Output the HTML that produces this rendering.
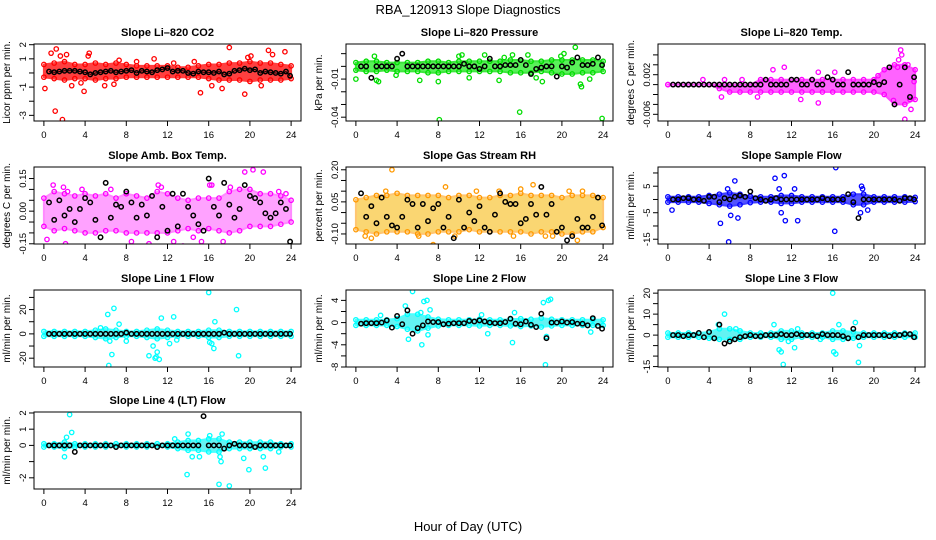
<!DOCTYPE html>
<html><head><meta charset="utf-8">
<style>
html,body{margin:0;padding:0;background:#fff;}
svg{display:block;font-family:"Liberation Sans",sans-serif;}
</style></head>
<body>
<svg id="chart" width="936" height="540" viewBox="0 0 936 540" xmlns="http://www.w3.org/2000/svg">
<text x="468" y="14" text-anchor="middle" font-size="13">RBA_120913  Slope Diagnostics</text>
<text x="468" y="531" text-anchor="middle" font-size="13">Hour of Day (UTC)</text>
</svg>
<script>
// ---- shared data ----
const xTicks = [0,4,8,12,16,20,24];
const bandHours = [0,1,2,3,4,5,6,7,8,9,10,11,12,13,14,15,16,17,18,19,20,21,22,23,24];
const blackHours = [0.5,1,1.5,2,2.5,3,3.5,4,4.5,5,5.5,6,6.5,7,7.5,8,8.5,9,9.5,10,10.5,11,11.5,12,12.5,13,13.5,14,14.5,15,15.5,16,16.5,17,17.5,18,18.5,19,19.5,20,20.5,21,21.5,22,22.5,23,23.5,23.9];

// ---- panel 1: CO2 ----
const co2Upper = [0.6,0.7,0.8,0.6,0.6,0.7,0.6,0.7,0.6,0.5,0.5,0.5,0.5,0.4,0.4,0.5,0.6,0.6,0.7,0.7,0.8,0.7,0.7,0.6,0.5];
const co2Lower = [-0.3,-0.4,-0.5,-0.4,-0.4,-0.5,-0.4,-0.4,-0.3,-0.3,-0.3,-0.3,-0.3,-0.3,-0.3,-0.3,-0.4,-0.5,-0.5,-0.5,-0.6,-0.5,-0.5,-0.5,-0.4];
const co2OutX = [0.1,1.1,1.8,1.2,0.7,1.6,2.2,3.9,4.4,2.7,3.6,5.9,10.7,15.2,18.0,17.3,19.5,21.8,22.2,23.4,20.1,7.3,9.0,4.3,6.8,12.6,14.6,16.3,19.8,21.1];
const co2OutY = [-1.1,-2.7,-3.3,1.7,1.4,1.2,1.3,-1.3,1.4,-0.9,-0.7,-0.9,1.0,-1.4,1.8,-1.1,-1.5,1.6,1.3,1.5,1.2,0.9,0.8,1.2,-0.8,0.7,0.8,-0.9,1.1,-0.9];
const co2Black = [0.1,0.05,0.1,0.15,0.15,0.15,0.1,0.05,-0.1,0.0,0.05,0.1,0.15,0.05,0.1,0.15,0.2,0.0,0.15,0.1,0.05,0.2,0.25,0.35,0.1,0.15,0.15,0.0,-0.05,0.1,0.05,0.05,0.0,0.1,-0.1,-0.05,0.15,0.2,0.3,0.2,0.25,0.0,0.1,0.05,0.0,-0.05,0.1,-0.2];

// ---- panel 2: pressure ----
const presUpper = [0.003,0.004,0.004,0.003,0.003,0.003,0.003,0.004,0.004,0.003,0.004,0.004,0.004,0.004,0.004,0.005,0.005,0.004,0.004,0.005,0.005,0.005,0.005,0.005,0.004];
const presLower = [-0.003,-0.004,-0.004,-0.003,-0.004,-0.004,-0.004,-0.005,-0.005,-0.004,-0.004,-0.004,-0.004,-0.004,-0.004,-0.005,-0.005,-0.005,-0.004,-0.005,-0.006,-0.006,-0.005,-0.005,-0.004];
const presOutX = [0.0,8.1,8.0,15.9,23.9,1.8,2.0,2.2,10.0,12.5,13.9,15.2,16.7,18.1,20.2,21.3,21.8,21.9,22.7,6.2,10.3,11.0,14.4,17.5,19.9,3.9];
const presOutY = [-0.010,-0.042,-0.012,-0.036,-0.041,0.008,-0.011,-0.012,0.008,0.009,-0.011,0.009,0.009,-0.012,0.010,0.015,-0.014,-0.016,-0.010,-0.011,0.009,-0.009,0.007,-0.009,0.008,-0.007];
const presBlack = [0.000,0.000,-0.009,0.000,0.000,0.000,0.000,0.006,0.010,0.000,0.000,0.000,0.000,0.000,0.000,0.000,0.000,0.000,0.000,0.000,0.002,0.000,0.000,-0.002,0.000,0.006,0.000,0.000,0.001,0.001,0.001,0.005,0.001,-0.006,-0.002,-0.001,0.000,0.000,-0.008,0.000,-0.001,0.003,0.007,0.001,0.001,0.002,0.007,0.001];

// ---- panel 3: Li-820 temp ----
const tempUpper = [0,0,0,0,0,0,0,0,0,0.001,0.001,0.001,0.001,0.001,0.001,0.001,0.001,0.001,0.001,0.001,0.001,0.003,0.004,0.004,0.003];
const tempLower = [0,0,0,0,0,-0.0008,-0.0015,-0.0015,-0.0015,-0.0015,-0.0015,-0.0015,-0.0015,-0.0015,-0.0015,-0.0015,-0.0015,-0.0015,-0.0015,-0.0015,-0.0015,-0.002,-0.004,-0.004,-0.003];
const tempOutX = [3.4,5.2,10.2,11.3,12.9,14.6,14.6,16.2,22.6,22.7,22.4,23.0,23.6,23.5,20.4,21.9,22.3,23.3,23.9,8.7,5.5,7.2];
const tempOutY = [0.001,-0.0025,0.003,0.0035,-0.003,-0.0037,0.0025,0.0025,0.007,0.006,0.005,-0.007,-0.005,-0.003,0.0018,-0.0032,0.0035,0.004,0.0006,-0.0025,0.001,0.001];
const tempBlack = [0,0,0,0,0,0,0,0,0,0,0,0,0,0,0,0,0,0,0.001,0,0,0,0,0.001,0.001,0,0,0.001,0,0,0.0015,0.001,0,0,0.0025,0,0,0,0,0.0005,0,0.0005,0.0035,-0.004,0,0.0035,-0.0025,0.0015];

// ---- panel 4: ambient box temp ----
const ambUpper = [0.06,0.09,0.08,0.07,0.08,0.07,0.08,0.06,0.08,0.07,0.06,0.09,0.08,0.06,0.05,0.06,0.06,0.06,0.09,0.10,0.10,0.08,0.08,0.07,0.05];
const ambLower = [-0.07,-0.09,-0.08,-0.09,-0.10,-0.10,-0.09,-0.09,-0.10,-0.10,-0.10,-0.10,-0.10,-0.09,-0.08,-0.09,-0.08,-0.09,-0.10,-0.09,-0.07,-0.07,-0.07,-0.06,-0.05];
const ambOutX = [0.3,0.9,2.1,2.8,4.5,5.0,5.3,7.3,9.1,11.1,11.4,13.5,15.3,16.1,16.3,18.1,19.5,20.3,21.3,1.9,3.7,6.5,8.5,10.2,12.6,14.5,17.4,22.8,23.5,2.3];
const ambOutY = [-0.13,0.12,-0.15,-0.17,-0.17,-0.18,-0.18,-0.18,-0.19,0.12,0.11,-0.16,-0.14,0.12,0.12,0.11,0.18,0.19,0.18,0.11,0.10,0.10,-0.14,-0.15,-0.14,-0.12,-0.14,0.09,0.08,0.09];
const ambBlack = [0.04,-0.04,0.05,-0.02,0.01,-0.05,0.01,0.06,0.04,-0.04,-0.12,0.13,-0.03,0.03,0.02,0.09,0.04,-0.03,0.03,-0.02,0.07,-0.12,0.02,-0.09,0.08,-0.07,0.08,0.02,-0.02,-0.06,-0.09,0.15,0.02,-0.02,0.13,0.03,-0.03,0.01,0.12,0.07,0.06,0.04,-0.01,-0.03,-0.01,0.04,0.01,-0.14];

// ---- panel 5: gas stream RH ----
const rhUpper = [0.06,0.07,0.08,0.08,0.09,0.08,0.08,0.08,0.08,0.07,0.08,0.08,0.07,0.07,0.08,0.08,0.09,0.08,0.08,0.08,0.07,0.08,0.08,0.08,0.07];
const rhLower = [-0.08,-0.09,-0.10,-0.09,-0.09,-0.09,-0.10,-0.10,-0.09,-0.09,-0.09,-0.08,-0.09,-0.09,-0.09,-0.09,-0.09,-0.10,-0.09,-0.09,-0.10,-0.10,-0.09,-0.09,-0.07];
const rhOutX = [3.5,7.5,8.7,17.2,21.5,0.9,2.9,6.1,13.9,15.3,18.4,19.1,1.5,11.7,20.7,22.0,16.0,9.6];
const rhOutY = [0.20,-0.15,0.12,0.13,-0.13,-0.11,0.10,-0.11,0.10,-0.11,-0.11,-0.11,-0.12,0.10,0.10,0.10,0.11,-0.11];
const rhBlack = [0.09,-0.02,0.03,-0.05,0.07,-0.02,-0.06,-0.07,-0.02,0.06,0.04,-0.07,0.04,-0.04,0.02,0.04,-0.07,-0.02,-0.12,0.06,-0.07,0.00,-0.04,0.03,-0.07,-0.09,-0.01,0.09,0.05,0.04,0.04,-0.05,-0.03,0.04,-0.01,0.12,-0.01,0.04,-0.09,-0.07,-0.13,-0.11,-0.03,-0.07,-0.07,-0.02,0.07,-0.06];

// ---- panel 6: sample flow ----
const sfUpper = [1,1,1,1,1.5,2,2.5,2,1.2,1,1,1.5,1.5,1,1,1,1,1,2,2,1,1,1,1,0.8];
const sfLower = [-1,-1,-1,-1,-1.5,-2,-2.5,-2,-1.2,-1,-1,-1.5,-1.5,-1,-1,-1,-1,-1,-2,-2,-1,-1,-1,-1,-0.8];
const sfOutX = [0.4,5.1,5.9,6.1,6.8,6.5,10.4,11.3,11.4,11.0,12.6,16.3,16.2,18.7,18.8,18.9,19.4,5.8,10.8,12.3];
const sfOutY = [-4,-9,-16,-6,-7,7,8,9,-8,-5,-8,12,-12,-5,5,4,-4,4,4,4];
const sfBlack = [0,0,0.5,0.5,0,0,-0.5,1,1,-1,0.5,0,1,1.5,1,3,0.5,0,-0.5,0,0.5,0,0,0,0,0,0,0,0,0.5,0,0,0,0,2,-1,-7,0,0,0,0,0,0,0,-0.5,0.5,0.5,0];

// ---- panel 7: line 1 flow ----
const l1Upper = [2,2,2,2,2,3,4,3,2,2,3,4,3,2,2,2,3,3,2,2,2,2,2,2,2];
const l1Lower = [-2,-2,-2,-2,-2,-3,-4,-3,-2,-2,-3,-4,-3,-2,-2,-2,-3,-3,-2,-2,-2,-2,-2,-2,-2];
const l1OutX = [6.2,6.4,6.8,7.3,6.6,6.3,11.4,10.2,10.6,10.9,11.2,10.8,11.0,12.6,12.2,16.0,16.1,16.6,16.5,18.7,18.9,5.5,8.0,12.9,16.3];
const l1OutY = [16,-6,21,8,-17,-26,13,-18,-10,-19,-21,-20,-15,14,-8,34,-7,10,-12,20,-18,5,-6,-5,-8];
const l1Black = [0,0,0,0,0,0,0,0,0,0,0,0,0,0,0,1,0,0,0,0,0,0,0,0,0,0,0,0,0,0,0,0,0,0,1,0,0,0,0,0,0,0,0,0,0,0,0,0];

// ---- panel 8: line 2 flow ----
const l2Upper = [0.5,0.5,0.5,0.5,0.7,1.5,1.5,1.0,0.6,0.5,0.5,0.5,0.6,0.5,0.5,0.6,0.7,0.6,0.8,0.6,0.5,0.5,0.5,0.5,0.5];
const l2Lower = [-0.5,-0.5,-0.5,-0.5,-0.7,-1.2,-1.5,-1.0,-0.6,-0.5,-0.5,-0.5,-0.6,-0.5,-0.5,-0.6,-0.7,-0.6,-0.8,-0.6,-0.5,-0.5,-0.5,-0.5,-0.5];
const l2OutX = [5.5,4.8,5.1,6.4,6.6,6.9,7.2,6.3,7.0,12.8,15.2,15.4,18.2,18.4,18.7,18.9,18.5,22.8,2.4,12.2];
const l2OutY = [5.6,3.0,-3.0,-4,3.8,4.0,2.3,1.8,-2.2,-2.0,-3.6,1.8,3.6,-7.6,4.0,4.2,-2.5,-1.7,1.3,1.4];
const l2Black = [-0.2,-0.1,-0.1,-0.1,0.0,0.4,-0.9,1.2,-0.3,2.2,-2.0,-1.0,-0.5,0.2,0.1,0.1,-0.3,-0.2,-0.1,-0.1,-0.1,0.3,0.2,0.4,0.2,0.0,-0.1,-0.1,0.1,0.7,-0.2,-0.3,0.2,-0.4,-0.8,1.6,-2.8,0.0,0.0,0.2,0.0,0.1,-0.2,-0.2,-0.5,0.8,-0.6,-1.1];

// ---- panel 9: line 3 flow ----
const l3Upper = [1,1,1,1,1.5,3,3,2,1,1,1,2,2,1,1,1,2,2,1.5,1,1,1,1,1,1];
const l3Lower = [-1,-1,-1,-1,-1.5,-2,-2,-2,-1,-1,-1,-2,-2,-1,-1,-1,-2,-2,-1.5,-1,-1,-1,-1,-1,-1];
const l3OutX = [5.5,4.9,6.6,10.3,10.8,11.0,11.2,11.7,12.3,12.6,16.0,16.1,16.3,16.6,18.2,18.5,18.6,6.0,7.0,14.8];
const l3OutY = [10,5,3,5,-7,-8,-14,-3,-6,3,20,-8,-9,5,6,-13,-5,-3,2,-2];
const l3Black = [0,0,-0.5,0,0,1,-1,1.5,-1.5,5,-4,-3,-2,-1,-0.5,0,-0.5,-0.5,0,0,0,0.5,0,0,0.5,0,0,0,-0.5,0.5,0,0,0,-0.5,-1.5,3,-1,0,0,0,0,0,-0.5,0,0,0.5,0.5,-1];

// ---- panel 10: line 4 flow ----
const l4Upper = [0.1,0.1,0.2,0.1,0.1,0.1,0.1,0.1,0.1,0.1,0.1,0.1,0.1,0.2,0.3,0.3,0.4,0.4,0.2,0.2,0.2,0.2,0.2,0.1,0.1];
const l4Lower = [-0.1,-0.1,-0.2,-0.1,-0.1,-0.1,-0.1,-0.1,-0.1,-0.1,-0.1,-0.1,-0.1,-0.2,-0.3,-0.3,-0.4,-0.4,-0.2,-0.2,-0.2,-0.2,-0.2,-0.1,-0.1];
const l4OutX = [2.5,2.7,2.0,2.2,13.9,14.0,14.4,15.1,17.0,17.1,17.2,18.0,19.4,19.9,21.3,21.5,16.1,17.3,12.7,22.8];
const l4OutY = [1.9,0.8,-0.7,0.5,-1.8,0.7,-0.7,-0.7,-2.4,-0.7,-1.0,-2.5,-0.8,-1.5,-0.7,-1.4,0.6,0.7,0.4,-0.4];
const l4Black = [0,0,0,0,0,-0.4,0,0,0,0,0,0,0,-0.1,0,0,0,0,0,0,0,-0.1,0,0,0,0,0,0,0,0,1.8,0,0,0,-0.2,0,0.1,0,0,0,-0.1,0,0,0,0,0,0,0];

const panels = [
 {name:'co2', title:'Slope Li\u2013820 CO2', ylab:'Licor ppm per min.', col:'#ff0000', band:'#ff0000', op:0.75, ymin:-3.4, ymax:2.05, ticks:[2,1,0,-1,-2,-3], labels:['2','1','','-1','','-3'], up:co2Upper, lo:co2Lower, ox:co2OutX, oy:co2OutY, bk:co2Black, line:true},
 {name:'pressure', title:'Slope Li\u2013820 Pressure', ylab:'kPa per min.', col:'#00dd00', band:'#22ee22', op:0.75, ymin:-0.043, ymax:0.0176, ticks:[0.01,0,-0.01,-0.02,-0.03,-0.04], labels:['','','-0.01','','','-0.04'], up:presUpper, lo:presLower, ox:presOutX, oy:presOutY, bk:presBlack},
 {name:'li820-temp', title:'Slope Li\u2013820 Temp.', ylab:'degrees C per min.', col:'#ff00ff', band:'#ff22ff', op:0.7, ymin:-0.00735, ymax:0.0082, ticks:[0.006,0.004,0.002,0,-0.002,-0.004,-0.006], labels:['','','0.002','','','','-0.006'], up:tempUpper, lo:tempLower, ox:tempOutX, oy:tempOutY, bk:tempBlack},
 {name:'amb-box-temp', title:'Slope Amb. Box Temp.', ylab:'degrees C per min.', col:'#ff00ff', band:'#ff33ff', op:0.45, ymin:-0.151, ymax:0.203, ticks:[0.15,0.10,0.05,0,-0.05,-0.10,-0.15], labels:['0.15','','','0.00','','','-0.15'], up:ambUpper, lo:ambLower, ox:ambOutX, oy:ambOutY, bk:ambBlack},
 {name:'gas-stream-rh', title:'Slope Gas Stream RH', ylab:'percent per min.', col:'#ff9900', band:'#f7b500', op:0.55, ymin:-0.147, ymax:0.213, ticks:[0.20,0.15,0.10,0.05,0,-0.05,-0.10], labels:['0.20','','','0.05','','','-0.10'], up:rhUpper, lo:rhLower, ox:rhOutX, oy:rhOutY, bk:rhBlack},
 {name:'sample-flow', title:'Slope Sample Flow', ylab:'ml/min per min.', col:'#0000ff', band:'#1a1aff', op:0.75, ymin:-16.8, ymax:12.25, ticks:[10,5,0,-5,-10,-15], labels:['','5','','-5','','-15'], up:sfUpper, lo:sfLower, ox:sfOutX, oy:sfOutY, bk:sfBlack},
 {name:'line1-flow', title:'Slope Line 1 Flow', ylab:'ml/min per min.', col:'#00ffff', band:'#22eeee', op:0.7, ymin:-27.25, ymax:36.1, ticks:[30,20,10,0,-10,-20], labels:['','20','','0','','-20'], up:l1Upper, lo:l1Lower, ox:l1OutX, oy:l1OutY, bk:l1Black},
 {name:'line2-flow', title:'Slope Line 2 Flow', ylab:'ml/min per min.', col:'#00ffff', band:'#22eeee', op:0.7, ymin:-8.0, ymax:5.87, ticks:[4,2,0,-2,-4,-6,-8], labels:['4','','0','','-4','','-8'], up:l2Upper, lo:l2Lower, ox:l2OutX, oy:l2OutY, bk:l2Black},
 {name:'line3-flow', title:'Slope Line 3 Flow', ylab:'ml/min per min.', col:'#00ffff', band:'#22eeee', op:0.7, ymin:-15.2, ymax:21.5, ticks:[20,15,10,5,0,-5,-10,-15], labels:['20','','10','','0','','','-15'], up:l3Upper, lo:l3Lower, ox:l3OutX, oy:l3OutY, bk:l3Black},
 {name:'line4-flow', title:'Slope Line 4 (LT) Flow', ylab:'ml/min per min.', col:'#00ffff', band:'#22eeee', op:0.7, ymin:-2.69, ymax:2.06, ticks:[2,1,0,-1,-2], labels:['2','1','0','','-2'], up:l4Upper, lo:l4Lower, ox:l4OutX, oy:l4OutY, bk:l4Black}
];

const NS = 'http://www.w3.org/2000/svg';
const svg = document.getElementById('chart');
const colLeft = [34,346,658];
const rowTop = [44,167,290,412];
const W = 267, H = 77;

function mk(tag, attrs, parent){
  const e = document.createElementNS(NS, tag);
  for (const k in attrs) e.setAttribute(k, attrs[k]);
  parent.appendChild(e);
  return e;
}

panels.forEach((p, i) => {
  const L = colLeft[i % 3], T = rowTop[Math.floor(i / 3)];
  const g = document.createElementNS(NS, 'g');
  
  
  svg.appendChild(g);
  const xs = v => L + (v + 0.96) / 25.92 * W;
  const ys = v => T + (p.ymax - v) / (p.ymax - p.ymin) * H;

  const clipId = 'clip' + i;
  const cp = mk('clipPath', {id: clipId}, g);
  mk('rect', {x: L, y: T, width: W, height: H}, cp);

  const t = mk('text', {x: L + W / 2, y: T - 8, 'text-anchor': 'middle', 'font-size': 11, 'font-weight': 'bold'}, g);
  
  
  t.textContent = p.title;

  const yl = mk('text', {transform: 'translate(' + (L - 24) + ',' + (T + H / 2) + ') rotate(-90)', 'text-anchor': 'middle', 'font-size': 10}, g);
  
  
  yl.textContent = p.ylab;

  const plot = mk('g', {'clip-path': 'url(#' + clipId + ')'}, g);
  
  

  let d = '';
  bandHours.forEach((h, k) => { d += (k ? 'L' : 'M') + xs(h).toFixed(1) + ' ' + ys(p.up[k]).toFixed(1); });
  for (let k = bandHours.length - 1; k >= 0; k--) d += 'L' + xs(bandHours[k]).toFixed(1) + ' ' + ys(p.lo[k]).toFixed(1);
  d += 'Z';
  const band = mk('path', {d: d, fill: p.band, stroke: p.col, 'stroke-width': 2, 'stroke-linejoin': 'round', opacity: p.op}, plot);
  
  

  bandHours.forEach((h, k) => {
    [p.up[k], p.lo[k]].forEach(v => {
      const c = mk('circle', {cx: xs(h), cy: ys(v), r: 2.2, fill: 'none', stroke: p.col, 'stroke-width': 1.3}, plot);
      
      
    });
  });

  p.ox.forEach((h, k) => {
    const c = mk('circle', {cx: xs(h), cy: ys(p.oy[k]), r: 2.2, fill: 'none', stroke: p.col, 'stroke-width': 1.3}, plot);
    
    
  });

  if (p.line) {
    const pl = mk('polyline', {points: blackHours.map((h, k) => xs(h).toFixed(1) + ',' + ys(p.bk[k]).toFixed(1)).join(' '), fill: 'none', stroke: '#000', 'stroke-width': 1}, plot);
    
    
  }
  blackHours.forEach((h, k) => {
    const c = mk('circle', {cx: xs(h), cy: ys(p.bk[k]), r: 2.2, fill: 'none', stroke: '#000', 'stroke-width': 1.5}, plot);
    
    
  });

  const box = mk('rect', {x: L, y: T, width: W, height: H, fill: 'none', stroke: '#000', 'stroke-width': 1}, g);
  
  

  xTicks.forEach(v => {
    mk('line', {x1: xs(v), x2: xs(v), y1: T + H, y2: T + H + 5, stroke: '#000'}, g);
    const tl = mk('text', {x: xs(v), y: T + H + 17, 'text-anchor': 'middle', 'font-size': 9.5}, g);
    
    
    tl.textContent = v;
  });

  p.ticks.forEach((v, k) => {
    mk('line', {x1: L - 5, x2: L, y1: ys(v), y2: ys(v), stroke: '#000'}, g);
    if (p.labels[k]) {
      const tl = mk('text', {transform: 'translate(' + (L - 8) + ',' + ys(v) + ') rotate(-90)', 'text-anchor': 'middle', 'font-size': 9.5}, g);
      
      
      tl.textContent = p.labels[k];
    }
  });
});
</script>
</body></html>
